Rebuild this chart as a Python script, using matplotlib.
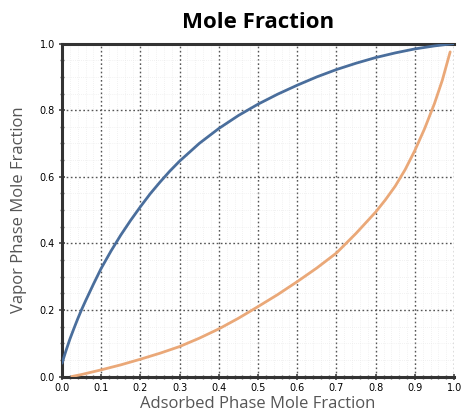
import matplotlib
matplotlib.use("Agg")
import matplotlib.pyplot as plt
from matplotlib.ticker import MultipleLocator

# Data
blue_x = [0.0, 0.01, 0.02, 0.03, 0.04, 0.05, 0.06, 0.08, 0.1, 0.125, 0.15, 0.175, 0.2, 0.225, 0.25, 0.275, 0.3,
          0.35, 0.4, 0.45, 0.5, 0.55, 0.6, 0.65, 0.7, 0.75, 0.8, 0.85, 0.9, 0.95, 1.0]
blue_y = [0.04, 0.077, 0.112, 0.143, 0.173, 0.201, 0.227, 0.277, 0.325, 0.377, 0.425, 0.469, 0.51, 0.549, 0.584, 0.617, 0.647,
          0.7, 0.745, 0.784, 0.818, 0.848, 0.875, 0.9, 0.922, 0.941, 0.958, 0.972, 0.984, 0.993, 1.0]

orange_x = [0.025, 0.05, 0.075, 0.1, 0.15, 0.2, 0.25, 0.3, 0.35, 0.4, 0.45, 0.5, 0.55, 0.6, 0.65, 0.7, 0.75, 0.8,
            0.825, 0.85, 0.875, 0.9, 0.925, 0.95, 0.97, 0.99]
orange_y = [0.0, 0.006, 0.013, 0.02, 0.035, 0.052, 0.07, 0.09, 0.115, 0.143, 0.175, 0.21, 0.246, 0.285, 0.326, 0.371, 0.43, 0.494,
            0.531, 0.572, 0.621, 0.679, 0.745, 0.82, 0.89, 0.975]

title = "Mole Fraction"
xlabel = "Adsorbed Phase Mole Fraction"
ylabel = "Vapor Phase Mole Fraction"

fig = plt.figure(figsize=(4.61, 4.19), dpi=100)
ax = fig.add_axes([0.1345, 0.1014, 0.8505, 0.7946])

ax.plot(blue_x, blue_y, color="#4a6e9c", lw=2.0, solid_capstyle="round", solid_joinstyle="round", zorder=3)
ax.plot(orange_x, orange_y, color="#eaa878", lw=2.0, solid_capstyle="round", solid_joinstyle="round", zorder=3)

ax.set_xlim(0, 1.0)
ax.set_ylim(0, 1.0)
ax.xaxis.set_major_locator(MultipleLocator(0.1))
ax.xaxis.set_minor_locator(MultipleLocator(0.02))
ax.yaxis.set_major_locator(MultipleLocator(0.2))
ax.yaxis.set_minor_locator(MultipleLocator(0.05))
ax.xaxis.set_major_formatter(plt.FuncFormatter(lambda v, p: f"{v:.1f}"))
ax.yaxis.set_major_formatter(plt.FuncFormatter(lambda v, p: f"{v:.1f}"))

ax.grid(which="major", color="#555555", linestyle=(0, (1.2, 1.8)), lw=1.0, zorder=1)
ax.grid(which="minor", color="#e6e6e6", linestyle=(0, (1, 2)), lw=0.5, zorder=0)

for s in ["left", "bottom", "top"]:
    ax.spines[s].set_color("#333333")
    ax.spines[s].set_linewidth(2.2)
ax.spines["right"].set_visible(False)

ax.tick_params(axis="both", which="major", labelsize=7, length=4, width=1.2, color="#444444", pad=3, direction="inout")
ax.tick_params(axis="both", which="minor", length=3, width=1.0, color="#666666", direction="inout")

ax.set_title(title, fontsize=16, fontweight="bold", family="Open Sans", pad=11)
ax.set_xlabel(xlabel, fontsize=12, color="#555555", family="Open Sans", labelpad=2)
ax.set_ylabel(ylabel, fontsize=12, color="#555555", family="Open Sans", labelpad=9)

fig.savefig("out.png", dpi=100)
